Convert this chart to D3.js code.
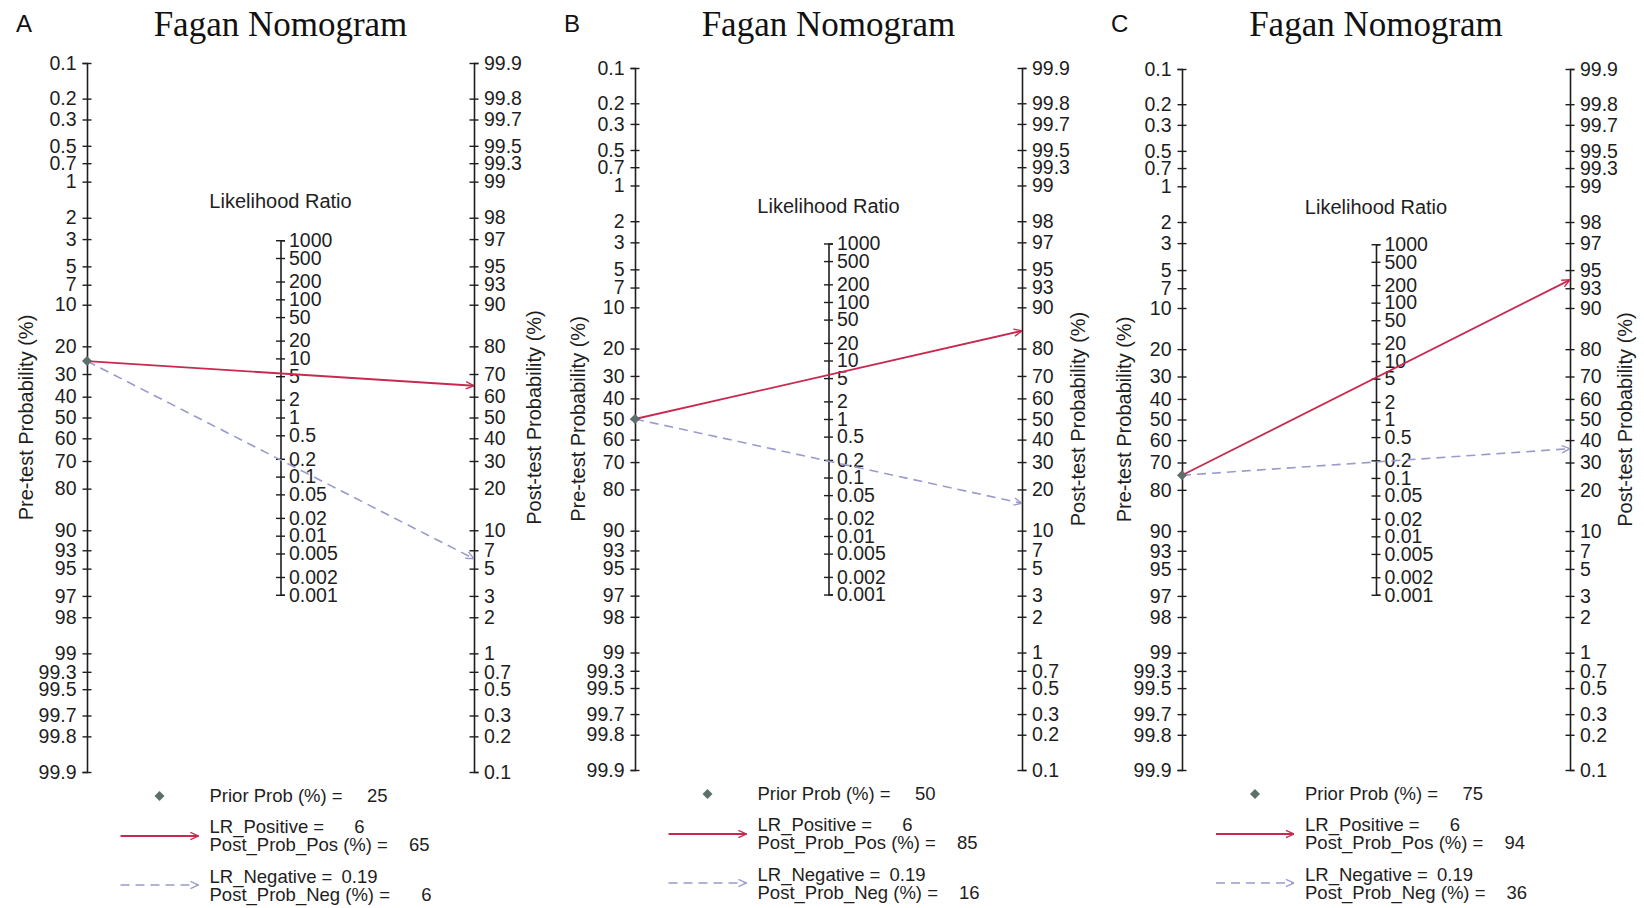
<!DOCTYPE html>
<html><head><meta charset="utf-8">
<script src="https://cdn.jsdelivr.net/npm/d3@7"></script>
<style>
body{margin:0;background:#fff;}
text{font-family:"Liberation Sans",Arial,sans-serif;}
text.title{font-family:"Liberation Serif","Times New Roman",serif;}
</style></head><body>
<svg id="chart" width="1644" height="908"></svg>
<script>
// ---- data ----
const panelLetters = ["A", "B", "C"];
const chartTitle = "Fagan Nomogram";
const priorProb = [25, 50, 75];
const lrPositive = [6, 6, 6];
const postProbPos = [65, 85, 94];
const lrNegative = [0.19, 0.19, 0.19];
const postProbNeg = [6, 16, 36];
const preTicks = [0.1,0.2,0.3,0.5,0.7,1,2,3,5,7,10,20,30,40,50,60,70,80,90,93,95,97,98,99,99.3,99.5,99.7,99.8,99.9];
const postTicks = [99.9,99.8,99.7,99.5,99.3,99,98,97,95,93,90,80,70,60,50,40,30,20,10,7,5,3,2,1,0.7,0.5,0.3,0.2,0.1];
const lrTicks = [1000,500,200,100,50,20,10,5,2,1,0.5,0.2,0.1,0.05,0.02,0.01,0.005,0.002,0.001];

// ---- layout ----
const layout = [
  {left: 87,  right: 474,  top: 63, bottom: 772, preOff: 61, postOff: 60},
  {left: 635, right: 1022, top: 68, bottom: 770, preOff: 57, postOff: 56},
  {left: 1182, right: 1570, top: 69, bottom: 770, preOff: 58, postOff: 55}
];
const RED = "#c8294e", BLUE = "#9a9acd", DIAM = "#5d6f6b", INK = "#1e1e1e";
const logit = p => Math.log(p / (100 - p));

const svg = d3.select("#chart");
const defs = svg.append("defs");
[["arrRed", RED], ["arrBlue", BLUE]].forEach(([id, c]) => {
  defs.append("marker").attr("id", id).attr("viewBox", "0 0 10 10")
    .attr("refX", 10).attr("refY", 5).attr("markerWidth", 9).attr("markerHeight", 9)
    .attr("markerUnits", "userSpaceOnUse").attr("orient", "auto")
    .append("path").attr("d", "M1,1 L10,5 L1,9").attr("fill", "none")
    .attr("stroke", c).attr("stroke-width", 1.5);
});

function styleAxis(g) {
  g.select(".domain").attr("stroke", INK).attr("stroke-width", 1.6);
  g.selectAll(".tick line").attr("x1", -4.5).attr("x2", 4.5).attr("stroke", INK).attr("stroke-width", 1.4);
  g.selectAll(".tick text").attr("font-size", "19.5px").attr("fill", INK);
}

layout.forEach((L, i) => {
  const g = svg.append("g");
  const mid = (L.top + L.bottom) / 2;
  const lrX = (L.left + L.right) / 2;
  const b = (L.bottom - L.top) / (2 * logit(99.9));
  const half = b * Math.log(1000) / 2;

  const preScale = d3.scaleLinear().domain([logit(0.1), logit(99.9)]).range([L.top, L.bottom]);
  const postScale = d3.scaleLinear().domain([logit(0.1), logit(99.9)]).range([L.bottom, L.top]);
  const lrScale = d3.scaleLog().domain([0.001, 1000]).range([mid + half, mid - half]);

  // title & letter
  g.append("text").attr("class", "title").attr("x", lrX).attr("y", 36).attr("text-anchor", "middle")
    .attr("font-size", "35px").attr("fill", "#111").text(chartTitle);
  g.append("text").attr("x", L.left - 71).attr("y", 32).attr("font-size", "24px")
    .attr("fill", "#111").text(panelLetters[i]);

  // left axis
  const preLab = new Map(preTicks.map(t => [logit(t), String(t)]));
  const ga = g.append("g").attr("transform", `translate(${L.left},0)`)
    .call(d3.axisLeft(preScale).tickValues(preTicks.map(logit)).tickSizeOuter(0)
      .tickSize(4.5).tickPadding(6).tickFormat(d => preLab.get(d)));
  styleAxis(ga);

  // right axis
  const postLab = new Map(postTicks.map(t => [logit(t), String(t)]));
  const gb = g.append("g").attr("transform", `translate(${L.right},0)`)
    .call(d3.axisRight(postScale).tickValues(postTicks.map(logit)).tickSizeOuter(0)
      .tickSize(4.5).tickPadding(5.5).tickFormat(d => postLab.get(d)));
  styleAxis(gb);

  // LR axis
  const gc = g.append("g").attr("transform", `translate(${lrX},0)`)
    .call(d3.axisRight(lrScale).tickValues(lrTicks).tickSizeOuter(0)
      .tickSize(4.5).tickPadding(4).tickFormat(d => String(d)));
  styleAxis(gc);

  g.append("text").attr("x", lrX).attr("y", L.top + 145).attr("text-anchor", "middle")
    .attr("font-size", "20px").attr("fill", INK).text("Likelihood Ratio");

  // axis titles
  g.append("text").attr("transform", `translate(${L.left - L.preOff},${mid}) rotate(-90)`)
    .attr("text-anchor", "middle").attr("dy", "0.35em").attr("font-size", "20px")
    .attr("fill", INK).text("Pre-test Probability (%)");
  g.append("text").attr("transform", `translate(${L.right + L.postOff},${mid}) rotate(-90)`)
    .attr("text-anchor", "middle").attr("dy", "0.35em").attr("font-size", "20px")
    .attr("fill", INK).text("Post-test Probability (%)");

  // nomogram lines
  const y0 = preScale(logit(priorProb[i]));
  g.append("line").attr("x1", L.left).attr("y1", y0)
    .attr("x2", L.right).attr("y2", postScale(logit(postProbNeg[i])))
    .attr("stroke", BLUE).attr("stroke-width", 1.6).attr("stroke-dasharray", "9,6")
    .attr("marker-end", "url(#arrBlue)");
  g.append("line").attr("x1", L.left).attr("y1", y0)
    .attr("x2", L.right).attr("y2", postScale(logit(postProbPos[i])))
    .attr("stroke", RED).attr("stroke-width", 1.8)
    .attr("marker-end", "url(#arrRed)");
  g.append("path").attr("d", d3.symbol(d3.symbolSquare, 50)())
    .attr("transform", `translate(${L.left},${y0}) rotate(45)`).attr("fill", DIAM);

  // legend
  const tx = lrX - 71;
  const fs = "18.5px";
  const txt = (x, y, s, anchor) => g.append("text").attr("x", x).attr("y", y)
    .attr("font-size", fs).attr("fill", INK).attr("text-anchor", anchor || "start").text(s);

  g.append("path").attr("d", d3.symbol(d3.symbolSquare, 50)())
    .attr("transform", `translate(${lrX - 121},${L.bottom + 24}) rotate(45)`).attr("fill", DIAM);
  txt(tx, L.bottom + 30, "Prior Prob (%) =");
  txt(tx + 178, L.bottom + 30, String(priorProb[i]), "end");

  g.append("line").attr("x1", lrX - 160).attr("x2", lrX - 82)
    .attr("y1", L.bottom + 64).attr("y2", L.bottom + 64)
    .attr("stroke", RED).attr("stroke-width", 1.8).attr("marker-end", "url(#arrRed)");
  txt(tx, L.bottom + 61, "LR_Positive =");
  txt(tx + 155, L.bottom + 61, String(lrPositive[i]), "end");
  txt(tx, L.bottom + 79, "Post_Prob_Pos (%) =");
  txt(tx + 220, L.bottom + 79, String(postProbPos[i]), "end");

  g.append("line").attr("x1", lrX - 160).attr("x2", lrX - 82)
    .attr("y1", L.bottom + 113).attr("y2", L.bottom + 113)
    .attr("stroke", BLUE).attr("stroke-width", 1.6).attr("stroke-dasharray", "9,6")
    .attr("marker-end", "url(#arrBlue)");
  txt(tx, L.bottom + 111, "LR_Negative =");
  txt(tx + 168, L.bottom + 111, String(lrNegative[i]), "end");
  txt(tx, L.bottom + 129, "Post_Prob_Neg (%) =");
  txt(tx + 222, L.bottom + 129, String(postProbNeg[i]), "end");
});
</script>
</body></html>
